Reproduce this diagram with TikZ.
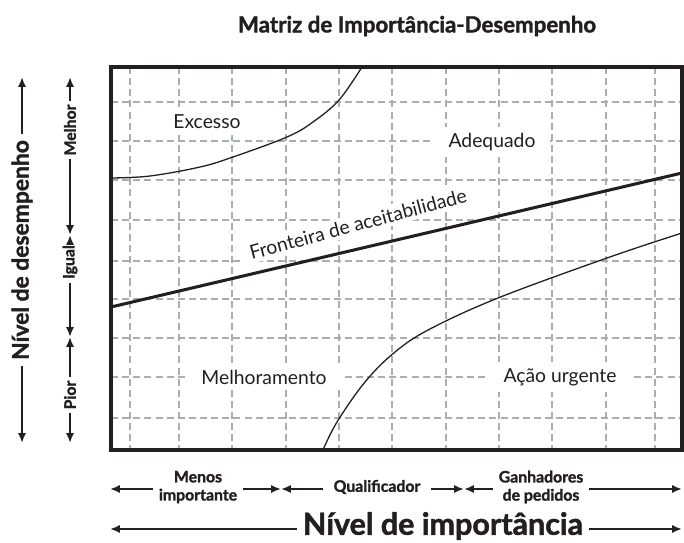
\documentclass[tikz,border=0pt]{standalone}
\usepackage{fontspec}
\setmainfont{Lato}
\newfontfamily\heavyfont{Lato}[BoldFeatures={FakeBold=1.6}]
\usetikzlibrary{arrows.meta}
\definecolor{ink}{HTML}{231F20}
\definecolor{gridc}{HTML}{A9AEB5}
\tikzset{
  frame/.style={draw=ink, line width=2.6pt},
  gridline/.style={draw=gridc, line width=1.5pt, dash pattern=on 6pt off 3.5pt},
  bound/.style={draw=ink, line width=2.6pt, line cap=round},
  zone/.style={draw=ink, line width=1.1pt},
  arr/.style={draw=ink, line width=1.7pt, -{Latex[length=8.5pt,width=7pt]}},
  regionlab/.style={text=ink, font=\fontsize{16.5}{18}\selectfont, fill=white, inner xsep=12pt, inner ysep=5pt},
  scalelab/.style={text=ink, font=\heavyfont\bfseries\fontsize{13.5}{15.5}\selectfont, align=center, inner sep=5pt},
  axislab/.style={text=ink, font=\heavyfont\bfseries\fontsize{19.5}{21}\selectfont, inner sep=5pt},
  titlelab/.style={text=ink, font=\heavyfont\bfseries\fontsize{19}{21}\selectfont}
}
\begin{document}
\begin{tikzpicture}[x=0.03cm, y=-0.03cm]
  \useasboundingbox (0,0) rectangle (684,543);

  \node[titlelab] (title) at (417,26) {Matriz de Importância-Desempenho};

  \foreach \x in {130,179,232,286,339,392,446,499,552,606,655}
    \draw[gridline] (\x,67) -- (\x,450);
  \foreach \y in {102,141,180,220,261,299,338,377,418}
    \draw[gridline] (111,\y) -- (682,\y);

  \draw[zone] plot[smooth, tension=0.6] coordinates {(111,178) (150,176) (200,167) (233,157) (287,137) (313,122) (339,100) (362,67)};
  \draw[zone] plot[smooth, tension=0.6] coordinates {(323,450) (337,422) (365,382) (395,352) (430,329) (498,298) (607,258) (682,233)};

  \coordinate (fl) at (111,307);
  \coordinate (fr) at (682,173);
  \draw[bound] (fl) -- (fr);

  \node[regionlab] (excesso) at (207,122) {Excesso};
  \node[regionlab] (adequado) at (492,142) {Adequado};
  \node[regionlab] (melhoramento) at (264,377) {Melhoramento};
  \node[regionlab] (urgente) at (560,377) {Ação urgente};
  \node[regionlab, rotate=15, inner xsep=8pt, inner ysep=3pt] (fronteira) at (358,224) {Fronteira de aceitabilidade};

  \draw[frame] (111,67) rectangle (682,450);

  \node[axislab, rotate=90] (desemp) at (22,250) {Nível de desempenho};
  \coordinate (dtop) at (22,77);
  \coordinate (dbot) at (22,443);
  \draw[arr] (desemp) -- (dtop);
  \draw[arr] (desemp) -- (dbot);

  \node[scalelab, rotate=90, inner sep=3pt] (melhor) at (70,130) {Melhor};
  \node[scalelab, rotate=90, inner sep=3pt] (igual) at (70,262) {Igual};
  \node[scalelab, rotate=90, inner sep=3pt] (pior) at (70,395) {Pior};
  \coordinate (stop) at (70,77);
  \coordinate (mi) at (70,235);
  \coordinate (ip) at (70,337);
  \coordinate (sbot) at (70,443);
  \draw[arr] (melhor) -- (stop);
  \draw[arr] (melhor) -- (mi);
  \draw[arr] (igual) -- (mi);
  \draw[arr] (igual) -- (ip);
  \draw[arr] (pior) -- (ip);
  \draw[arr] (pior) -- (sbot);

  \node[scalelab] (menos) at (198,487) {Menos\\importante};
  \node[scalelab, inner xsep=9pt] (qualif) at (377,487) {Qualificador};
  \node[scalelab] (ganha) at (541,487) {Ganhadores\\de pedidos};
  \coordinate (hleft) at (110,489);
  \coordinate (mq) at (281,489);
  \coordinate (qg) at (464,489);
  \coordinate (hright) at (682,489);
  \draw[arr] (menos.west |- hleft) -- (hleft);
  \draw[arr] (menos.east |- mq) -- (mq);
  \draw[arr] (qualif.west |- mq) -- (mq);
  \draw[arr] (qualif.east |- qg) -- (qg);
  \draw[arr] (ganha.west |- qg) -- (qg);
  \draw[arr] (ganha.east |- hright) -- (hright);

  \node[axislab, font=\heavyfont\bfseries\fontsize{26}{28}\selectfont] (import) at (443,526) {Nível de importância};
  \coordinate (ileft) at (110,529);
  \coordinate (iright) at (682,529);
  \draw[arr] (import.west |- ileft) -- (ileft);
  \draw[arr] (import.east |- iright) -- (iright);
\end{tikzpicture}
\end{document}
